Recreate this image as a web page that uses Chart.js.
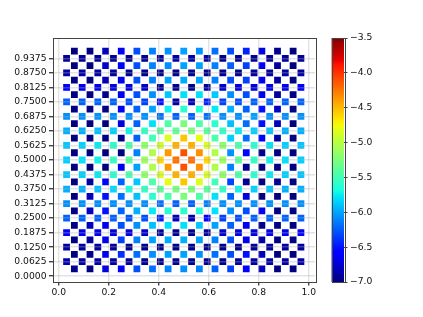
<!DOCTYPE html>
<html>
<head>
<meta charset="utf-8">
<script src="https://cdn.jsdelivr.net/npm/chart.js@4"></script>
<style>
  html, body { margin: 0; background: #fff; }
  #wrap { position: relative; width: 423px; height: 317px; overflow: hidden; }
  canvas { position: absolute; left: 0; top: 0; filter: blur(0.5px); }
</style>
</head>
<body>
<div id="wrap">
  <canvas id="main" width="423" height="317"></canvas>
  <canvas id="bar" width="423" height="317"></canvas>
</div>
<script>
// rows sitting between the y ticks, top to bottom (15 markers each)
const midRowYs = [0.96875, 0.90625, 0.84375, 0.78125, 0.71875, 0.65625, 0.59375, 0.53125, 0.46875, 0.40625, 0.34375, 0.28125, 0.21875, 0.15625, 0.09375, 0.03125];
const midRowXs = [0.0625, 0.125, 0.1875, 0.25, 0.3125, 0.375, 0.4375, 0.5, 0.5625, 0.625, 0.6875, 0.75, 0.8125, 0.875, 0.9375];
const midRowValues = [
  [-7, -7, -6.81, -6.58, -6.29, -6.12, -6.07, -6.01, -6.07, -6.18, -6.29, -6.45, -6.71, -6.95, -7],
  [-7, -7, -6.76, -6.58, -6.29, -6.12, -6.07, -6.01, -6.01, -6.12, -6.23, -6.34, -6.58, -6.9, -7],
  [-7, -7, -6.85, -6.66, -6.29, -6.12, -6.01, -5.98, -6.01, -6.12, -6.29, -6.34, -6.66, -6.9, -7],
  [-7, -7, -6.95, -6.66, -6.29, -6.07, -5.88, -5.79, -5.79, -5.88, -6.07, -6.29, -6.66, -6.9, -7],
  [-7, -7, -7, -6.66, -6.23, -6.01, -5.73, -5.6, -5.63, -5.76, -5.96, -6.23, -6.51, -6.81, -7],
  [-7, -7, -7, -6.71, -6.23, -5.79, -5.45, -5.25, -5.45, -5.6, -5.9, -6.18, -6.51, -6.81, -7],
  [-7, -7, -7, -6.95, -6.23, -5.5, -4.83, -4.55, -4.8, -5.45, -5.85, -6.18, -6.58, -6.9, -7],
  [-7, -7, -7, -7, -6.12, -5.04, -4.38, -4.11, -4.35, -5.04, -6.07, -6.58, -6.95, -7, -7],
  [-7, -7, -7, -6.66, -6.01, -5.04, -4.38, -4.11, -4.35, -5.04, -6.12, -6.95, -7, -7, -7],
  [-7, -6.9, -6.58, -6.23, -5.88, -5.45, -4.8, -4.55, -4.83, -5.5, -6.34, -6.95, -7, -6.95, -7],
  [-7, -6.81, -6.51, -6.18, -5.9, -5.6, -5.45, -5.25, -5.45, -5.79, -6.23, -6.71, -7, -7, -7],
  [-7, -6.81, -6.51, -6.23, -5.96, -5.76, -5.63, -5.6, -5.63, -5.79, -6.07, -6.29, -6.66, -7, -7],
  [-7, -6.81, -6.66, -6.29, -6.07, -5.9, -5.79, -5.79, -5.88, -6.01, -6.23, -6.66, -6.95, -7, -7],
  [-7, -6.9, -6.66, -6.34, -6.12, -6.01, -5.98, -5.96, -6.01, -6.12, -6.29, -6.66, -6.9, -7, -7],
  [-7, -6.95, -6.66, -6.4, -6.18, -6.07, -6.01, -6.01, -6.07, -6.18, -6.29, -6.51, -6.81, -7, -7],
  [-6.95, -7, -6.71, -6.58, -6.29, -6.18, -6.12, -6.07, -6.12, -6.23, -6.34, -6.58, -6.81, -7, -7]
];

// rows on the y ticks, top to bottom (16 markers each)
const tickRowYs = [0.9375, 0.875, 0.8125, 0.75, 0.6875, 0.625, 0.5625, 0.5, 0.4375, 0.375, 0.3125, 0.25, 0.1875, 0.125, 0.0625];
const tickRowXs = [0.03125, 0.09375, 0.15625, 0.21875, 0.28125, 0.34375, 0.40625, 0.46875, 0.53125, 0.59375, 0.65625, 0.71875, 0.78125, 0.84375, 0.90625, 0.96875];
const tickRowValues = [
  [-6.92, -6.92, -6.93, -6.93, -6.95, -6.95, -6.9, -6.88, -6.88, -6.9, -6.95, -6.95, -6.93, -6.93, -6.92, -6.92],
  [-6.88, -6.88, -6.9, -6.92, -6.95, -6.95, -6.95, -6.97, -6.97, -6.95, -6.95, -6.95, -6.92, -6.9, -6.88, -6.88],
  [-6.58, -6.66, -6.66, -6.71, -6.71, -6.76, -6.9, -6.95, -6.95, -6.9, -6.76, -6.71, -6.71, -6.66, -6.66, -6.58],
  [-6.23, -6.23, -6.23, -6.23, -6.29, -6.34, -6.51, -6.9, -6.81, -6.45, -6.34, -6.29, -6.23, -6.23, -6.23, -6.23],
  [-6.07, -6.07, -6.07, -6.07, -6.07, -6.07, -6.18, -6.23, -6.23, -6.18, -6.07, -6.07, -6.01, -6.07, -6.07, -6.07],
  [-5.96, -5.96, -5.9, -5.85, -5.73, -5.56, -5.39, -5.35, -5.25, -5.39, -5.56, -5.76, -5.85, -5.9, -5.96, -5.96],
  [-5.88, -5.85, -5.76, -5.6, -5.45, -5.18, -4.9, -4.47, -4.47, -4.86, -5.18, -5.45, -5.6, -5.79, -5.85, -5.88],
  [-5.85, -5.79, -5.73, -5.56, -5.39, -5.11, -4.62, -4.23, -4.23, -4.62, -5.11, -5.39, -5.56, -5.73, -5.79, -5.85],
  [-5.88, -5.85, -5.76, -5.6, -5.45, -5.18, -4.86, -4.47, -4.47, -4.86, -5.18, -5.45, -5.6, -5.76, -5.85, -5.88],
  [-5.96, -5.96, -5.9, -5.82, -5.68, -5.56, -5.39, -5.25, -5.25, -5.39, -5.56, -5.73, -5.85, -5.9, -5.96, -5.96],
  [-6.07, -6.07, -6.07, -6.07, -6.07, -6.07, -6.18, -6.23, -6.23, -6.12, -6.07, -6.07, -6.07, -6.07, -6.07, -6.07],
  [-6.23, -6.23, -6.23, -6.23, -6.29, -6.29, -6.45, -6.81, -6.85, -6.6, -6.34, -6.29, -6.23, -6.23, -6.23, -6.23],
  [-6.58, -6.66, -6.66, -6.71, -6.71, -6.76, -6.9, -6.95, -6.95, -6.9, -6.76, -6.71, -6.71, -6.66, -6.66, -6.58],
  [-6.9, -6.9, -6.9, -6.92, -6.95, -6.95, -6.95, -6.97, -6.97, -6.95, -6.95, -6.95, -6.92, -6.9, -6.9, -6.9],
  [-6.85, -6.88, -6.88, -6.9, -6.92, -6.95, -6.95, -6.95, -6.95, -6.95, -6.95, -6.92, -6.9, -6.88, -6.88, -6.85]
];

const xTicks = [0, 0.2, 0.4, 0.6, 0.8, 1];
const yTicks = [0, 0.0625, 0.125, 0.1875, 0.25, 0.3125, 0.375, 0.4375, 0.5, 0.5625, 0.625, 0.6875, 0.75, 0.8125, 0.875, 0.9375];
const barTicks = [-7, -6.5, -6, -5.5, -5, -4.5, -4, -3.5];
const vMin = -7;
const vMax = -3.5;

// matplotlib jet breakpoints
const jetR = [[0, 0], [0.35, 0], [0.66, 1], [0.89, 1], [1, 0.5]];
const jetG = [[0, 0], [0.125, 0], [0.375, 1], [0.64, 1], [0.91, 0], [1, 0]];
const jetB = [[0, 0.5], [0.11, 1], [0.34, 1], [0.65, 0], [1, 0]];

function ramp(stops, t) {
  for (let i = 1; i < stops.length; i++) {
    if (t <= stops[i][0]) {
      const a = stops[i - 1], b = stops[i];
      return a[1] + (b[1] - a[1]) * (t - a[0]) / (b[0] - a[0]);
    }
  }
  return stops[stops.length - 1][1];
}
function jet(t) {
  t = Math.min(1, Math.max(0, t));
  const c = s => Math.round(ramp(s, t) * 255);
  return `rgb(${c(jetR)},${c(jetG)},${c(jetB)})`;
}
const valueColor = v => jet((v - vMin) / (vMax - vMin));

const points = [];
midRowYs.forEach((y, r) => midRowXs.forEach((x, c) => points.push({ x, y, v: midRowValues[r][c] })));
tickRowYs.forEach((y, r) => tickRowXs.forEach((x, c) => points.push({ x, y, v: tickRowValues[r][c] })));

const FONT = { family: '"DejaVu Sans"', size: 9.2 };
const TEXT = '#111111';
const SPINE = '#444444';
const GRID = 'rgba(176,176,176,0.35)';

Chart.defaults.animation = false;
Chart.defaults.responsive = false;
Chart.defaults.plugins.legend.display = false;
Chart.defaults.plugins.tooltip.enabled = false;

// box round the plot, matplotlib has all four spines
const frame = {
  id: 'frame',
  afterDraw(chart) {
    const { ctx, chartArea: a } = chart;
    ctx.save();
    ctx.strokeStyle = SPINE;
    ctx.lineWidth = 1;
    ctx.strokeRect(Math.round(a.left) + 0.5, Math.round(a.top) + 0.5, Math.round(a.right - a.left), Math.round(a.bottom - a.top));
    ctx.restore();
  }
};

new Chart(document.getElementById('main'), {
  type: 'scatter',
  data: {
    datasets: [{
      data: points,
      pointStyle: 'rect',
      pointRadius: 4.8,
      pointBorderWidth: 0,
      pointBackgroundColor: ctx => valueColor(ctx.raw.v)
    }]
  },
  options: {
    layout: { padding: { left: 0, right: 423 - 315, top: 38, bottom: 0 } },
    scales: {
      x: {
        type: 'linear',
        min: -0.025,
        max: 1.025,
        afterBuildTicks: s => { s.ticks = xTicks.map(value => ({ value })); },
        afterFit: s => { s.height = 35; },
        grid: { z: 1, color: GRID, lineWidth: 1.4, tickColor: SPINE, tickLength: 3.5 },
        border: { display: false },
        ticks: { font: FONT, color: TEXT, padding: 2, maxRotation: 0, autoSkip: false, callback: v => v.toFixed(1) }
      },
      y: {
        type: 'linear',
        min: -0.025,
        max: 1.025,
        afterBuildTicks: s => { s.ticks = yTicks.map(value => ({ value })); },
        afterFit: s => { s.width = 52.5; },
        grid: { z: 1, color: GRID, lineWidth: 1.4, tickColor: SPINE, tickLength: 3.5 },
        border: { display: false },
        ticks: { font: FONT, color: TEXT, padding: 2.5, autoSkip: false, callback: v => v.toFixed(4) }
      }
    }
  },
  plugins: [frame]
});

new Chart(document.getElementById('bar'), {
  type: 'bar',
  data: {
    labels: ['value'],
    datasets: [{
      data: [[vMin, vMax]],
      barPercentage: 1,
      categoryPercentage: 1,
      backgroundColor: ctx => {
        const { chart } = ctx;
        if (!chart.chartArea) return '#000080';
        const y = chart.scales.y;
        const g = chart.ctx.createLinearGradient(0, y.getPixelForValue(vMin), 0, y.getPixelForValue(vMax));
        for (let i = 0; i <= 100; i++) g.addColorStop(i / 100, jet(i / 100));
        return g;
      }
    }]
  },
  options: {
    layout: { padding: { left: 331.5, right: 423 - 344 - 40, top: 38, bottom: 35 } },
    scales: {
      x: { display: false },
      y: {
        position: 'right',
        min: vMin,
        max: vMax,
        afterBuildTicks: s => { s.ticks = barTicks.map(value => ({ value })); },
        afterFit: s => { s.width = 40; },
        grid: { drawOnChartArea: false, tickColor: SPINE, tickLength: 3.5 },
        border: { display: false },
        ticks: { font: FONT, color: TEXT, padding: 2.5, autoSkip: false, callback: v => '\u2212' + Math.abs(v).toFixed(1) }
      }
    }
  },
  plugins: [frame]
});
</script>
</body>
</html>
